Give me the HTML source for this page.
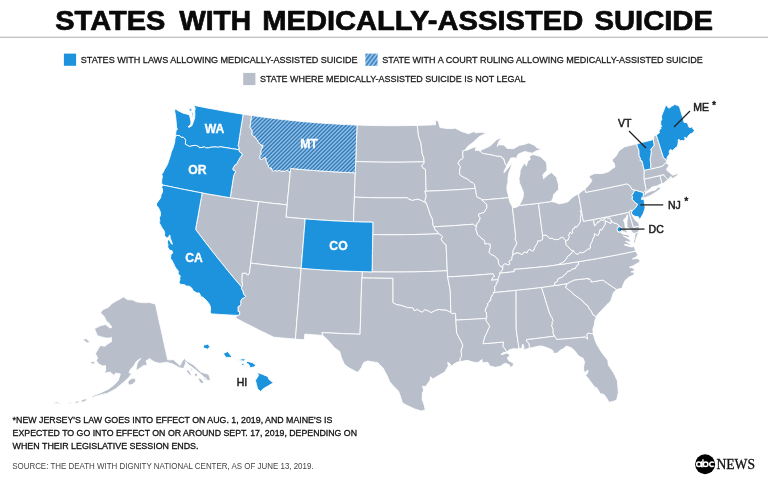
<!DOCTYPE html>
<html><head><meta charset="utf-8"><title>States with medically-assisted suicide</title>
<style>
html,body{margin:0;padding:0;background:#fff;}
body{width:768px;height:480px;overflow:hidden;font-family:"Liberation Sans",sans-serif;}
svg{display:block;filter:blur(.45px)}
.g{fill:#b8bfca;stroke:#fff;stroke-width:.9;stroke-linejoin:round}
.b{fill:#1e93dd;stroke:#fff;stroke-width:.9;stroke-linejoin:round}
.h{fill:url(#hatch);stroke:#fff;stroke-width:.9;stroke-linejoin:round}
text{font-family:"Liberation Sans",sans-serif}
.lab{font-weight:bold;font-size:12.2px;fill:#fff;stroke:#fff;stroke-width:.3;text-anchor:middle}
.dlab{font-size:10.5px;fill:#222;stroke:#222;stroke-width:.5}
.leg{font-size:9.7px;fill:#1a1a1a;stroke:#1a1a1a;stroke-width:.28}
.fn{font-size:9.3px;fill:#111;stroke:#111;stroke-width:.3}
.src{font-size:9.2px;fill:#444}
</style></head><body>
<svg width="768" height="480" viewBox="0 0 768 480">
<defs>
<pattern id="hatch" width="2.78" height="2.78" patternUnits="userSpaceOnUse" patternTransform="rotate(-45)">
<rect width="2.78" height="2.78" fill="#84c1f1"/><rect width="2.78" height="1.3" fill="#3e78ad"/>
</pattern>
<pattern id="hatch2" width="3.3" height="3.3" patternUnits="userSpaceOnUse" patternTransform="translate(365.5 54) rotate(-53)">
<rect width="3.3" height="3.3" fill="#88c4f5"/><rect width="3.3" height="1.5" fill="#467daf"/>
</pattern>
</defs>
<rect width="768" height="480" fill="#fff"/>
<g font-size="27.7" font-weight="bold" fill="#0a0a0a" stroke="#0a0a0a" stroke-width=".7" stroke-linejoin="round">
<text x="55.3" y="29.9" textLength="110" lengthAdjust="spacingAndGlyphs">STATES</text>
<text x="179.2" y="29.9" textLength="72" lengthAdjust="spacingAndGlyphs">WITH</text>
<text x="262.2" y="29.9" textLength="321" lengthAdjust="spacingAndGlyphs">MEDICALLY-ASSISTED</text>
<text x="594.4" y="29.9" textLength="118.6" lengthAdjust="spacingAndGlyphs">SUICIDE</text>
</g>
<rect x="0" y="36.8" width="768" height="0.8" fill="#9a9a9a"/>
<!-- legend -->
<rect x="63.9" y="53.6" width="12.2" height="12.2" fill="#1e93dd"/>
<text class="leg" x="80.8" y="62.8" textLength="276.7" lengthAdjust="spacingAndGlyphs">STATES WITH LAWS ALLOWING MEDICALLY-ASSISTED SUICIDE</text>
<rect x="365.4" y="53.6" width="12.2" height="12.2" fill="url(#hatch2)"/>
<text class="leg" x="382.3" y="62.8" textLength="320.4" lengthAdjust="spacingAndGlyphs">STATE WITH A COURT RULING ALLOWING MEDICALLY-ASSISTED SUICIDE</text>
<rect x="243.2" y="72.9" width="12.2" height="12.2" fill="#b8bfca"/>
<text class="leg" x="260" y="81.9" textLength="265.5" lengthAdjust="spacingAndGlyphs">STATE WHERE MEDICALLY-ASSISTED SUICIDE IS NOT LEGAL</text>
<!-- map -->
<g id="map">
<path class="g" d="M202.2,192.9L205.7,193.6L209.2,194.2L212.7,194.8L216.2,195.4L219.7,196.0L223.2,196.5L226.7,197.1L230.3,197.7L233.8,198.2L237.3,198.7L240.9,199.2L244.4,199.7L248.0,200.2L251.5,200.7L255.1,201.2L258.6,201.6L258.0,206.3L257.4,211.0L256.8,215.7L256.2,220.4L255.6,225.2L255.0,229.9L254.4,234.6L253.8,239.4L253.2,244.1L252.6,248.8L251.9,253.6L251.3,258.3L250.7,263.1L250.1,268.0L249.5,273.0L248.2,275.0L247.2,275.0L246.1,273.3L242.3,273.3L242.1,277.0L242.0,280.6L242.4,283.2L242.5,285.5L241.6,287.1L238.2,283.0L234.7,279.0L231.3,274.9L227.9,270.8L224.6,266.7L221.3,262.6L217.9,258.4L214.7,254.3L211.4,250.2L208.2,246.0L205.0,241.9L201.8,237.7L198.7,233.6L195.6,229.4L196.4,224.8L197.2,220.3L198.1,215.7L198.9,211.1L199.7,206.6L200.5,202.0L201.4,197.5L202.2,192.9Z"/>
<path class="g" d="M243.1,114.2L246.0,114.7L248.8,115.1L251.7,115.5L251.1,119.5L250.5,123.5L250.0,127.4L252.4,131.2L251.9,134.5L253.4,136.1L255.2,136.9L255.3,137.7L258.2,141.4L258.3,142.7L260.6,144.2L260.6,145.1L263.2,145.3L261.4,149.6L260.7,152.4L261.4,154.4L259.6,155.5L260.1,156.8L259.4,158.0L261.3,159.5L263.7,158.2L264.8,157.0L266.2,158.4L265.9,159.3L266.5,161.7L267.7,164.3L268.7,165.3L268.4,167.0L269.5,167.8L271.4,168.1L272.3,170.6L273.3,171.2L274.4,170.5L277.2,170.9L279.4,170.5L280.7,171.0L282.8,171.0L283.2,171.4L285.1,171.3L287.4,169.9L288.7,171.4L290.3,172.3L289.9,177.0L289.4,181.6L288.9,186.2L288.5,190.9L288.0,195.5L287.6,200.2L287.1,204.9L283.5,204.5L280.0,204.1L276.4,203.7L272.8,203.4L269.3,202.9L265.7,202.5L262.2,202.1L258.6,201.6L255.1,201.2L251.5,200.7L248.0,200.2L244.4,199.7L240.9,199.2L237.3,198.7L233.8,198.2L230.3,197.7L230.9,193.2L231.6,188.8L232.3,184.4L233.0,179.9L233.7,175.5L235.5,171.7L234.9,170.7L233.2,170.2L232.8,168.5L235.3,164.5L236.4,164.3L237.5,162.6L237.5,161.5L238.8,160.2L239.7,158.2L242.2,154.9L241.6,153.2L239.6,152.0L238.7,149.7L239.0,147.7L238.0,145.5L238.4,144.4L239.0,140.5L239.6,136.6L240.2,132.6L240.8,128.7L241.4,125.1L242.0,121.5L242.6,117.8L243.1,114.2Z"/>
<path class="g" d="M290.7,168.4L294.3,168.8L297.9,169.1L301.5,169.5L305.0,169.8L308.6,170.1L312.2,170.4L315.8,170.6L319.4,170.9L323.0,171.1L326.6,171.4L330.2,171.6L333.7,171.8L337.3,172.0L340.9,172.2L344.5,172.4L348.1,172.5L351.7,172.7L355.3,172.8L355.1,177.7L355.0,182.5L354.8,187.4L354.6,192.3L354.4,197.1L354.3,202.0L354.1,206.9L353.9,211.9L353.7,216.8L353.5,221.7L349.8,221.6L346.1,221.4L342.4,221.2L338.6,221.1L334.9,220.9L331.2,220.7L327.5,220.4L323.8,220.2L320.0,220.0L316.3,219.7L312.6,219.4L308.9,219.2L305.2,218.9L301.3,218.5L297.4,218.2L293.6,217.9L289.7,217.5L285.9,217.1L286.3,213.0L286.7,208.9L287.1,204.9L287.5,200.5L287.9,196.2L288.4,191.9L288.8,187.6L289.2,183.3L289.7,179.0L290.1,174.7L290.4,171.6L290.7,168.4Z"/>
<path class="g" d="M258.6,201.6L262.2,202.1L265.7,202.5L269.3,202.9L272.8,203.4L276.4,203.7L280.0,204.1L283.5,204.5L287.1,204.9L286.7,208.9L286.3,213.0L285.9,217.1L289.7,217.5L293.6,217.9L297.4,218.2L301.3,218.5L305.2,218.9L304.8,223.8L304.4,228.7L304.0,233.6L303.6,238.6L303.2,243.5L302.8,248.5L302.4,253.4L302.0,258.4L301.6,263.4L301.1,268.3L297.3,268.0L293.4,267.7L289.5,267.3L285.6,267.0L281.7,266.6L277.8,266.2L274.0,265.8L270.1,265.4L266.2,265.0L262.3,264.5L258.5,264.0L254.6,263.6L250.7,263.1L251.3,258.3L251.9,253.6L252.6,248.8L253.2,244.1L253.8,239.4L254.4,234.6L255.0,229.9L255.6,225.2L256.2,220.4L256.8,215.7L257.4,211.0L258.0,206.3L258.6,201.6Z"/>
<path class="g" d="M250.7,263.1L254.6,263.6L258.5,264.0L262.3,264.5L266.2,265.0L270.1,265.4L274.0,265.8L277.8,266.2L281.7,266.6L285.6,267.0L289.5,267.3L293.4,267.7L297.3,268.0L301.1,268.3L300.8,273.0L300.4,277.7L300.0,282.5L299.6,287.2L299.2,291.9L298.8,296.6L298.5,301.3L298.1,306.0L297.7,310.8L297.3,315.5L296.9,320.2L296.5,324.9L296.2,329.7L295.8,334.4L295.4,339.1L291.8,338.8L288.2,338.5L284.5,338.2L280.9,337.9L277.3,337.5L273.7,337.2L269.8,335.3L266.0,333.4L262.1,331.6L258.3,329.7L254.5,327.8L250.7,325.8L246.9,323.9L243.1,322.0L239.3,320.0L235.6,318.1L236.9,315.3L239.1,315.1L239.7,314.2L239.5,311.7L238.1,311.5L238.0,306.7L240.4,305.3L240.8,303.4L240.8,300.5L242.3,298.5L244.1,297.9L245.6,296.3L243.8,294.4L242.8,290.9L241.4,288.6L241.6,287.1L242.5,285.5L242.4,283.2L242.0,280.6L242.1,277.0L242.3,273.3L246.1,273.3L247.2,275.0L248.2,275.0L249.5,273.0L250.1,268.0L250.7,263.1Z"/>
<path class="g" d="M301.1,268.3L305.0,268.6L308.8,268.9L312.6,269.2L316.4,269.5L320.3,269.7L324.1,270.0L327.9,270.2L331.7,270.4L335.6,270.6L339.4,270.8L343.2,271.0L347.1,271.1L350.9,271.3L354.7,271.4L358.6,271.5L362.4,271.6L362.3,274.8L362.2,277.9L361.8,277.9L361.7,282.6L361.5,287.2L361.4,291.9L361.2,296.6L361.1,301.3L361.0,306.0L360.8,310.7L360.7,315.4L360.5,320.1L360.4,324.8L360.2,329.5L360.1,334.2L355.9,334.1L351.6,333.9L347.4,333.8L343.2,333.6L338.9,333.4L334.7,333.2L330.5,333.0L326.2,332.8L322.0,332.6L322.8,335.4L319.2,335.2L315.6,334.9L312.0,334.7L308.4,334.4L304.8,334.2L304.6,337.0L304.4,339.8L301.4,339.6L298.4,339.4L295.4,339.1L295.8,334.4L296.2,329.7L296.5,324.9L296.9,320.2L297.3,315.5L297.7,310.8L298.1,306.0L298.5,301.3L298.8,296.6L299.2,291.9L299.6,287.2L300.0,282.5L300.4,277.7L300.8,273.0L301.1,268.3Z"/>
<path class="g" d="M357.0,125.0L360.4,125.1L363.7,125.3L367.0,125.3L370.4,125.4L373.7,125.5L377.1,125.6L380.4,125.6L383.8,125.6L387.1,125.7L390.4,125.7L393.8,125.7L397.1,125.7L400.5,125.6L403.8,125.6L407.1,125.6L410.5,125.5L413.8,125.4L417.2,125.4L418.0,130.1L418.3,134.8L419.1,138.0L420.1,140.5L421.0,143.0L421.3,146.6L421.9,150.5L422.2,153.8L423.7,157.3L424.2,161.8L420.6,161.9L417.0,161.9L413.4,162.0L409.8,162.1L406.2,162.1L402.6,162.2L399.0,162.2L395.4,162.2L391.8,162.2L388.2,162.2L384.6,162.2L380.9,162.1L377.3,162.1L373.7,162.0L370.1,161.9L366.5,161.8L362.9,161.7L359.3,161.6L355.7,161.5L355.9,156.9L356.0,152.3L356.2,147.7L356.4,143.2L356.5,138.6L356.7,134.1L356.9,129.5L357.0,125.0Z"/>
<path class="g" d="M355.7,161.5L359.3,161.6L362.9,161.7L366.5,161.8L370.1,161.9L373.7,162.0L377.3,162.1L380.9,162.1L384.6,162.2L388.2,162.2L391.8,162.2L395.4,162.2L399.0,162.2L402.6,162.2L406.2,162.1L409.8,162.1L413.4,162.0L417.0,161.9L420.6,161.9L424.2,161.8L424.1,163.1L421.7,165.8L423.1,168.2L425.5,169.3L425.6,173.7L425.8,178.0L425.9,182.4L426.0,186.8L426.2,191.2L424.8,191.2L426.3,196.1L424.9,200.7L426.6,203.5L424.2,202.2L421.3,200.4L419.3,199.8L417.4,199.2L414.8,199.8L412.2,200.5L408.4,198.9L407.0,197.7L403.2,197.8L399.5,197.8L395.7,197.8L392.0,197.8L388.2,197.8L384.5,197.8L380.7,197.8L376.9,197.7L373.2,197.7L369.4,197.6L365.7,197.5L361.9,197.4L358.2,197.3L354.4,197.1L354.6,192.3L354.8,187.4L355.0,182.5L355.1,177.7L355.3,172.8L355.4,169.0L355.6,165.2L355.7,161.5Z"/>
<path class="g" d="M354.4,197.1L358.2,197.3L361.9,197.4L365.7,197.5L369.4,197.6L373.2,197.7L376.9,197.7L380.7,197.8L384.5,197.8L388.2,197.8L392.0,197.8L395.7,197.8L399.5,197.8L403.2,197.8L407.0,197.7L408.4,198.9L412.2,200.5L414.8,199.8L417.4,199.2L419.3,199.8L421.3,200.4L424.2,202.2L426.6,203.5L427.7,207.0L428.7,209.5L429.5,212.2L430.3,214.9L432.2,218.4L432.7,221.6L433.1,225.6L434.0,226.8L435.3,230.2L437.3,231.3L438.8,233.8L434.9,233.9L431.0,234.1L427.1,234.2L423.2,234.3L419.3,234.4L415.4,234.5L411.6,234.6L407.7,234.6L403.8,234.7L399.9,234.7L396.0,234.7L392.1,234.8L388.2,234.7L384.4,234.7L380.5,234.7L376.6,234.6L372.7,234.6L372.8,230.5L372.8,226.3L372.9,222.2L369.0,222.1L365.2,222.1L361.3,222.0L357.4,221.8L353.5,221.7L353.7,216.8L353.9,211.9L354.1,206.9L354.3,202.0L354.4,197.1Z"/>
<path class="g" d="M372.7,234.6L376.6,234.6L380.5,234.7L384.4,234.7L388.2,234.7L392.1,234.8L396.0,234.7L399.9,234.7L403.8,234.7L407.7,234.6L411.6,234.6L415.4,234.5L419.3,234.4L423.2,234.3L427.1,234.2L431.0,234.1L434.9,233.9L438.8,233.8L441.4,235.3L442.6,236.7L441.1,239.2L442.8,241.6L443.9,243.4L446.1,244.5L446.3,248.8L446.5,253.2L446.7,257.6L446.9,261.9L447.1,266.3L447.3,270.7L443.4,270.9L439.4,271.1L435.5,271.2L431.5,271.4L427.6,271.5L423.6,271.6L419.6,271.7L415.7,271.8L411.7,271.9L407.8,271.9L403.8,272.0L399.8,272.0L395.9,272.0L391.9,272.0L388.0,272.0L384.0,272.0L380.0,272.0L376.1,271.9L372.1,271.9L372.2,267.2L372.3,262.5L372.3,257.8L372.4,253.2L372.5,248.5L372.6,243.9L372.6,239.2L372.7,234.6Z"/>
<path class="g" d="M362.4,271.6L365.6,271.7L368.9,271.8L372.1,271.9L376.1,271.9L380.0,272.0L384.0,272.0L388.0,272.0L391.9,272.0L395.9,272.0L399.8,272.0L403.8,272.0L407.8,271.9L411.7,271.9L415.7,271.8L419.6,271.7L423.6,271.6L427.6,271.5L431.5,271.4L435.5,271.2L439.4,271.1L443.4,270.9L447.3,270.7L447.5,273.8L447.6,276.9L448.5,281.5L449.4,286.0L450.3,290.6L450.4,295.0L450.5,299.4L450.6,303.8L450.8,308.2L450.9,312.6L448.6,311.4L446.3,310.2L442.1,310.0L439.0,309.5L435.3,310.5L431.2,312.7L428.5,311.1L424.8,309.7L422.2,312.3L419.6,311.1L417.2,309.4L414.3,310.9L412.7,307.8L410.1,307.7L407.5,307.6L404.3,306.5L401.2,305.4L397.0,304.8L394.9,303.7L392.8,302.5L392.8,297.7L392.8,292.8L392.8,288.0L392.8,283.1L392.8,278.3L389.0,278.3L385.2,278.3L381.3,278.2L377.5,278.2L373.7,278.1L369.9,278.1L366.1,278.0L362.2,277.9L362.3,274.8L362.4,271.6Z"/>
<path class="g" d="M362.2,277.9L366.1,278.0L369.9,278.1L373.7,278.1L377.5,278.2L381.3,278.2L385.2,278.3L389.0,278.3L392.8,278.3L392.8,283.1L392.8,288.0L392.8,292.8L392.8,297.7L392.8,302.5L394.9,303.7L397.0,304.8L401.2,305.4L404.3,306.5L407.5,307.6L410.1,307.7L412.7,307.8L414.3,310.9L417.2,309.4L419.6,311.1L422.2,312.3L424.8,309.7L428.5,311.1L431.2,312.7L435.3,310.5L439.0,309.5L442.1,310.0L446.3,310.2L448.6,311.4L450.9,312.6L452.0,313.8L454.1,313.1L455.6,313.5L455.7,316.8L455.9,320.1L456.1,324.4L456.4,328.6L456.6,332.9L459.2,337.8L460.6,340.3L461.9,342.9L462.8,345.7L461.2,350.2L461.4,353.4L461.6,356.5L460.1,358.2L460.4,361.6L457.5,362.1L454.3,363.8L450.9,366.5L450.2,364.0L447.7,362.2L448.4,366.0L446.6,369.0L444.8,372.0L441.1,374.1L437.4,376.2L435.1,377.7L432.9,379.1L430.6,376.7L430.1,380.2L428.0,383.1L425.8,386.5L422.5,386.3L423.7,390.1L422.3,393.2L422.3,396.4L422.2,399.5L423.3,402.6L424.4,405.7L425.3,409.9L421.4,411.0L417.9,410.0L414.5,408.9L410.5,407.0L406.5,405.2L402.5,402.9L401.1,398.6L399.8,394.8L398.5,391.1L394.5,387.3L392.0,384.4L389.5,381.4L388.4,378.7L387.3,376.0L385.1,372.0L383.0,367.9L380.2,365.2L377.5,362.5L375.9,362.4L371.8,361.7L367.7,361.0L363.6,362.7L361.5,367.5L358.1,372.2L356.4,371.8L352.6,369.8L348.8,367.8L346.7,366.1L344.5,364.5L343.0,361.3L341.5,358.1L340.6,354.7L339.6,351.4L337.0,349.6L334.4,347.7L331.3,344.1L328.2,340.5L325.5,337.9L322.8,335.4L322.0,332.6L326.2,332.8L330.5,333.0L334.7,333.2L338.9,333.4L343.2,333.6L347.4,333.8L351.6,333.9L355.9,334.1L360.1,334.2L360.2,329.5L360.4,324.8L360.5,320.1L360.7,315.4L360.8,310.7L361.0,306.0L361.1,301.3L361.2,296.6L361.4,291.9L361.5,287.2L361.7,282.6L361.8,277.9L362.2,277.9Z"/>
<path class="g" d="M417.2,125.4L420.2,125.3L423.3,125.2L426.3,125.1L429.4,125.0L432.4,124.8L435.5,124.7L435.3,120.2L438.2,120.8L439.1,124.1L440.0,127.5L442.4,127.8L444.8,128.2L447.2,128.5L449.2,128.6L451.2,128.6L453.2,128.4L455.2,128.1L457.2,129.2L459.3,130.2L461.1,131.3L464.8,132.5L468.5,133.7L471.3,132.5L474.1,131.4L475.1,132.8L478.4,132.5L481.8,132.2L484.0,132.6L486.3,133.0L483.9,134.2L481.6,135.4L479.2,136.7L476.4,139.3L473.6,141.9L470.8,144.1L467.9,146.3L465.0,150.2L462.6,151.0L462.9,154.5L463.1,158.1L462.6,158.7L459.5,160.4L458.1,163.5L460.4,166.4L459.7,170.1L459.5,174.3L462.0,176.3L464.4,177.6L468.0,179.3L470.8,182.0L472.9,182.6L474.6,184.8L475.3,188.4L471.8,188.7L468.3,188.9L464.8,189.2L461.3,189.4L457.8,189.7L454.3,189.9L450.8,190.1L447.3,190.3L443.8,190.4L440.2,190.6L436.7,190.8L433.2,190.9L429.7,191.0L426.2,191.2L426.0,186.8L425.9,182.4L425.8,178.0L425.6,173.7L425.5,169.3L423.1,168.2L421.7,165.8L424.1,163.1L424.2,161.8L423.7,157.3L422.2,153.8L421.9,150.5L421.3,146.6L421.0,143.0L420.1,140.5L419.1,138.0L418.3,134.8L418.0,130.1L417.2,125.4Z"/>
<path class="g" d="M426.2,191.2L429.7,191.0L433.2,190.9L436.7,190.8L440.2,190.6L443.8,190.4L447.3,190.3L450.8,190.1L454.3,189.9L457.8,189.7L461.3,189.4L464.8,189.2L468.3,188.9L471.8,188.7L475.3,188.4L475.7,190.2L476.2,193.5L476.6,195.7L477.5,197.4L480.9,198.5L481.8,200.0L484.1,202.0L486.8,204.4L486.9,208.2L485.8,209.2L484.6,211.9L482.8,212.9L479.0,213.8L478.6,216.0L480.3,217.9L479.2,221.1L476.9,224.0L476.4,226.8L473.2,224.2L469.7,224.5L466.1,224.7L462.5,225.0L459.0,225.3L455.4,225.5L451.8,225.8L448.3,226.0L444.7,226.2L441.1,226.4L437.5,226.6L434.0,226.8L433.1,225.6L432.7,221.6L432.2,218.4L430.3,214.9L429.5,212.2L428.7,209.5L427.7,207.0L426.6,203.5L424.9,200.7L426.3,196.1L424.8,191.2L426.2,191.2Z"/>
<path class="g" d="M434.0,226.8L437.5,226.6L441.1,226.4L444.7,226.2L448.3,226.0L451.8,225.8L455.4,225.5L459.0,225.3L462.5,225.0L466.1,224.7L469.7,224.5L473.2,224.2L476.4,226.8L475.8,229.1L476.9,232.3L477.7,235.0L479.6,236.2L481.0,238.0L484.3,240.2L485.2,244.1L487.4,243.5L490.2,244.2L490.4,247.4L489.0,252.2L490.9,254.3L494.7,256.1L498.2,259.5L498.6,263.2L499.4,264.7L500.5,266.6L502.9,266.8L502.5,270.1L500.8,271.6L499.8,273.2L499.5,275.2L499.0,276.5L498.3,278.3L498.1,279.6L494.7,279.9L491.3,280.2L492.8,277.8L494.2,276.2L493.1,273.8L489.3,274.1L485.5,274.4L481.8,274.7L478.0,275.0L474.2,275.3L470.4,275.6L466.6,275.8L462.8,276.1L459.0,276.3L455.2,276.5L451.4,276.7L447.6,276.9L447.5,273.8L447.3,270.7L447.1,266.3L446.9,261.9L446.7,257.6L446.5,253.2L446.3,248.8L446.1,244.5L443.9,243.4L442.8,241.6L441.1,239.2L442.6,236.7L441.4,235.3L438.8,233.8L437.3,231.3L435.3,230.2L434.0,226.8Z"/>
<path class="g" d="M447.6,276.9L451.4,276.7L455.2,276.5L459.0,276.3L462.8,276.1L466.6,275.8L470.4,275.6L474.2,275.3L478.0,275.0L481.8,274.7L485.5,274.4L489.3,274.1L493.1,273.8L494.2,276.2L492.8,277.8L491.3,280.2L494.7,279.9L498.1,279.6L497.9,282.0L496.4,282.8L496.3,284.8L494.5,287.0L495.0,289.9L494.1,292.3L493.2,292.6L493.8,293.7L492.3,294.8L491.7,297.0L490.6,297.6L491.1,300.1L489.2,300.9L489.4,301.7L487.4,303.9L488.1,305.2L486.4,307.4L485.1,311.4L487.0,312.9L486.2,313.9L487.0,316.5L486.3,318.3L482.5,318.6L478.7,318.9L474.9,319.1L471.1,319.3L467.3,319.5L463.5,319.7L459.7,319.9L455.9,320.1L455.7,316.8L455.6,313.5L454.1,313.1L452.0,313.8L450.9,312.6L450.8,308.2L450.6,303.8L450.5,299.4L450.4,295.0L450.3,290.6L449.4,286.0L448.5,281.5L447.6,276.9Z"/>
<path class="g" d="M455.9,320.1L459.7,319.9L463.5,319.7L467.3,319.5L471.1,319.3L474.9,319.1L478.7,318.9L482.5,318.6L486.3,318.3L486.1,320.9L487.9,323.2L489.8,326.5L488.4,328.9L487.5,331.4L485.2,336.0L484.2,339.3L483.1,343.7L487.2,343.4L491.4,343.1L495.5,342.7L499.6,342.4L503.8,342.0L502.9,346.2L505.0,348.8L506.9,352.0L506.0,352.4L503.4,352.4L500.9,354.5L503.6,354.2L506.0,353.1L508.5,353.5L509.8,355.9L507.2,357.8L508.6,360.4L512.1,362.6L513.7,363.7L512.8,366.1L509.8,367.5L509.3,364.8L505.5,363.3L502.9,364.4L500.8,366.2L498.1,366.8L495.4,367.3L492.6,366.6L489.7,365.9L487.8,362.3L485.1,362.6L482.3,362.9L482.1,359.6L479.5,361.4L477.4,362.7L475.1,362.4L472.9,362.1L470.1,361.2L467.3,360.3L463.8,361.0L460.4,361.6L460.1,358.2L461.6,356.5L461.4,353.4L461.2,350.2L462.8,345.7L461.9,342.9L460.6,340.3L459.2,337.8L456.6,332.9L456.4,328.6L456.1,324.4L455.9,320.1Z"/>
<path class="g" d="M465.0,150.2L467.0,150.2L469.6,149.0L472.3,147.8L474.3,147.3L476.3,146.8L475.2,150.8L476.6,150.1L479.6,150.8L482.6,153.3L485.7,153.8L488.9,154.4L492.1,154.9L494.4,155.5L496.8,156.0L499.1,156.2L501.4,156.5L501.6,157.9L503.7,158.3L504.9,163.0L506.6,165.9L506.3,167.1L504.3,170.4L504.1,172.8L505.8,170.8L507.4,168.8L510.3,165.2L512.3,163.1L511.3,166.1L510.3,169.1L508.8,172.9L508.0,177.9L508.0,182.2L506.9,186.6L507.1,191.0L508.1,193.9L508.8,197.6L505.4,198.0L502.0,198.3L498.7,198.6L495.3,198.9L491.9,199.2L488.6,199.5L485.2,199.8L481.8,200.0L480.9,198.5L477.5,197.4L476.6,195.7L476.2,193.5L475.7,190.2L475.3,188.4L474.6,184.8L472.9,182.6L470.8,182.0L468.0,179.3L464.4,177.6L462.0,176.3L459.5,174.3L459.7,170.1L460.4,166.4L458.1,163.5L459.5,160.4L462.6,158.7L463.1,158.1L462.9,154.5L462.6,151.0L465.0,150.2Z"/>
<path class="g" d="M481.8,200.0L485.2,199.8L488.6,199.5L491.9,199.2L495.3,198.9L498.7,198.6L502.0,198.3L505.4,198.0L508.8,197.6L509.7,201.7L511.5,205.2L512.4,206.9L512.9,211.7L513.5,216.5L514.0,221.3L514.6,226.1L515.1,231.0L515.7,235.8L515.1,239.0L516.3,241.4L516.8,243.2L516.6,244.1L514.8,247.4L513.1,250.5L512.9,253.0L512.9,255.5L512.0,256.9L511.9,259.8L508.9,261.3L510.0,264.0L508.1,265.1L506.8,264.3L504.4,263.9L503.0,265.3L502.9,266.8L500.5,266.6L499.4,264.7L498.6,263.2L498.2,259.5L494.7,256.1L490.9,254.3L489.0,252.2L490.4,247.4L490.2,244.2L487.4,243.5L485.2,244.1L484.3,240.2L481.0,238.0L479.6,236.2L477.7,235.0L476.9,232.3L475.8,229.1L476.4,226.8L476.9,224.0L479.2,221.1L480.3,217.9L478.6,216.0L479.0,213.8L482.8,212.9L484.6,211.9L485.8,209.2L486.9,208.2L486.8,204.4L484.1,202.0L481.8,200.0Z"/>
<path class="g" d="M512.4,206.9L513.7,207.7L516.6,207.1L519.1,205.5L522.3,205.1L525.5,204.8L528.8,204.4L532.0,204.1L535.2,203.7L538.4,203.3L539.0,207.9L539.6,212.5L540.2,217.1L540.8,221.7L541.4,226.3L542.0,230.9L542.7,235.6L542.6,239.6L539.9,241.1L537.8,240.9L537.4,243.2L534.9,247.0L533.8,250.5L532.4,251.2L529.6,249.4L527.8,250.8L527.0,253.1L524.4,251.9L522.1,254.7L519.0,253.2L516.9,252.9L513.7,254.2L512.9,255.5L512.9,253.0L513.1,250.5L514.8,247.4L516.6,244.1L516.8,243.2L516.3,241.4L515.1,239.0L515.7,235.8L515.1,231.0L514.6,226.1L514.0,221.3L513.5,216.5L512.9,211.7L512.4,206.9Z"/>
<path class="g" d="M538.4,203.3L541.6,202.9L544.8,202.4L548.0,202.0L551.2,201.5L553.5,201.9L555.8,202.4L558.9,203.8L561.3,203.4L563.7,203.0L566.0,202.3L568.3,201.6L570.0,199.8L571.6,197.9L575.1,195.5L578.5,193.9L579.2,197.9L579.9,202.0L580.7,206.1L581.4,210.1L580.1,211.1L581.0,212.3L581.3,214.2L580.5,217.3L580.4,222.0L577.3,226.5L576.1,227.4L574.9,226.7L574.1,228.6L573.0,228.8L572.2,231.3L572.7,232.6L571.8,234.0L570.0,232.3L568.7,235.5L569.5,237.4L568.5,238.2L568.3,239.9L565.7,240.7L562.7,237.2L561.2,237.6L558.5,239.5L556.2,239.6L554.0,239.6L552.8,238.5L549.3,238.4L548.0,236.7L545.8,235.2L542.7,235.6L542.0,230.9L541.4,226.3L540.8,221.7L540.2,217.1L539.6,212.5L539.0,207.9L538.4,203.3Z"/>
<path class="g" d="M519.1,205.5L522.3,205.1L525.5,204.8L528.8,204.4L532.0,204.1L535.2,203.7L538.4,203.3L541.6,202.9L544.8,202.4L548.0,202.0L551.2,201.5L553.1,197.8L553.6,194.7L555.7,192.5L558.6,189.5L558.5,184.6L557.5,181.0L556.6,177.5L554.1,175.0L551.6,172.5L549.6,173.7L547.7,174.9L545.6,176.9L543.5,178.8L542.9,174.6L545.0,172.5L547.0,170.3L546.9,167.0L546.7,163.6L545.6,161.3L543.0,159.0L540.3,156.6L537.3,155.5L534.8,154.9L532.3,154.4L529.2,157.0L530.4,159.2L527.9,160.8L526.2,165.9L525.3,162.4L523.7,164.4L522.1,166.5L520.2,170.4L519.8,174.7L518.9,178.5L519.4,182.7L521.4,187.4L522.4,189.9L523.5,192.4L523.1,197.0L521.6,200.9L519.1,205.5ZM479.6,150.8L482.6,153.3L485.7,153.8L488.9,154.4L492.1,154.9L494.4,155.5L496.8,156.0L499.1,156.2L501.4,156.5L501.6,157.9L503.7,158.3L504.9,163.0L506.6,165.9L508.7,162.0L510.8,158.1L514.5,157.7L516.0,158.7L518.2,154.2L521.5,152.8L524.8,151.5L528.5,152.4L532.2,153.3L534.0,152.2L535.8,151.2L538.9,150.1L541.9,149.1L539.6,148.5L537.2,148.0L534.5,145.3L531.6,144.1L528.6,142.9L526.2,143.7L523.8,144.6L521.6,144.9L519.4,145.3L516.4,147.0L513.4,148.7L510.2,148.5L506.9,148.2L503.8,145.0L501.1,144.9L498.3,144.7L497.2,146.5L498.0,143.9L498.9,141.3L500.5,139.6L502.1,138.0L499.5,138.7L496.9,139.4L494.4,141.9L491.9,144.4L489.4,146.3L486.1,147.8L482.9,149.3L479.6,150.8Z"/>
<path class="g" d="M502.9,266.8L503.0,265.3L504.4,263.9L506.8,264.3L508.1,265.1L510.0,264.0L508.9,261.3L511.9,259.8L512.0,256.9L512.9,255.5L513.7,254.2L516.9,252.9L519.0,253.2L522.1,254.7L524.4,251.9L527.0,253.1L527.8,250.8L529.6,249.4L532.4,251.2L533.8,250.5L534.9,247.0L537.4,243.2L537.8,240.9L539.9,241.1L542.6,239.6L542.7,235.6L545.8,235.2L548.0,236.7L549.3,238.4L552.8,238.5L554.0,239.6L556.2,239.6L558.5,239.5L561.2,237.6L562.7,237.2L565.7,240.7L566.1,244.4L567.7,246.5L569.6,248.1L570.3,249.4L572.4,250.6L573.7,250.5L570.9,254.0L569.0,255.4L567.1,256.8L567.2,257.8L565.4,260.0L563.5,262.1L560.9,263.4L558.4,264.7L554.7,265.3L550.9,265.8L547.1,266.4L543.7,266.7L540.2,267.0L536.8,267.4L533.3,267.7L529.9,268.0L525.9,268.4L522.0,268.7L518.0,269.1L514.1,269.4L514.3,271.7L510.7,272.1L507.1,272.4L503.4,272.8L499.8,273.2L500.8,271.6L502.5,270.1L502.9,266.8Z"/>
<path class="g" d="M499.8,273.2L503.4,272.8L507.1,272.4L510.7,272.1L514.3,271.7L514.1,269.4L518.0,269.1L522.0,268.7L525.9,268.4L529.9,268.0L533.3,267.7L536.8,267.4L540.2,267.0L543.7,266.7L547.1,266.4L550.9,265.8L554.7,265.3L558.4,264.7L562.5,264.2L566.5,263.6L570.5,262.9L574.5,262.3L578.6,261.7L578.6,264.7L576.7,265.7L575.5,268.4L572.1,269.3L570.5,270.8L567.5,271.6L565.8,274.1L564.0,275.6L562.1,277.2L560.2,277.9L558.2,278.7L557.3,281.5L554.7,282.8L554.8,285.6L551.5,286.1L548.2,286.6L544.9,287.1L541.6,287.5L537.8,288.0L534.0,288.4L530.2,288.9L526.3,289.3L522.5,289.7L518.7,290.1L514.9,290.5L511.3,290.9L507.7,291.2L504.1,291.6L500.5,291.9L496.8,292.3L493.2,292.6L494.1,292.3L495.0,289.9L494.5,287.0L496.3,284.8L496.4,282.8L497.9,282.0L498.1,279.6L498.3,278.3L499.0,276.5L499.5,275.2L499.8,273.2Z"/>
<path class="g" d="M493.2,292.6L496.8,292.3L500.5,291.9L504.1,291.6L507.7,291.2L511.3,290.9L514.9,290.5L516.1,291.7L516.1,296.3L516.1,300.9L516.1,305.5L516.1,310.2L516.1,315.0L516.1,319.8L516.2,324.6L516.2,329.4L516.9,334.2L517.6,338.9L518.3,343.7L519.0,348.4L517.3,349.0L513.5,348.7L511.3,349.2L508.7,350.3L506.9,352.0L505.0,348.8L502.9,346.2L503.8,342.0L499.6,342.4L495.5,342.7L491.4,343.1L487.2,343.4L483.1,343.7L484.2,339.3L485.2,336.0L487.5,331.4L488.4,328.9L489.8,326.5L487.9,323.2L486.1,320.9L486.3,318.3L487.0,316.5L486.2,313.9L487.0,312.9L485.1,311.4L486.4,307.4L488.1,305.2L487.4,303.9L489.4,301.7L489.2,300.9L491.1,300.1L490.6,297.6L491.7,297.0L492.3,294.8L493.8,293.7L493.2,292.6Z"/>
<path class="g" d="M514.9,290.5L518.7,290.1L522.5,289.7L526.3,289.3L530.2,288.9L534.0,288.4L537.8,288.0L541.6,287.5L542.7,291.0L543.8,294.5L544.9,298.0L546.0,301.8L547.2,305.6L548.4,309.5L549.6,313.3L551.2,316.6L552.6,318.4L552.4,319.7L553.6,320.3L552.0,322.1L552.4,323.7L551.7,325.9L553.3,329.5L553.0,332.8L554.6,336.1L550.6,336.7L546.6,337.2L542.7,337.7L538.7,338.2L534.7,338.7L530.7,339.2L526.7,339.6L526.6,341.3L529.2,343.5L529.0,345.6L530.0,346.5L528.6,348.5L526.1,349.2L523.5,349.7L524.0,346.9L522.8,344.1L522.0,346.5L521.8,348.8L519.0,348.4L518.3,343.7L517.6,338.9L516.9,334.2L516.2,329.4L516.2,324.6L516.1,319.8L516.1,315.0L516.1,310.2L516.1,305.5L516.1,300.9L516.1,296.3L516.1,291.7L514.9,290.5Z"/>
<path class="g" d="M541.6,287.5L544.9,287.1L548.2,286.6L551.5,286.1L554.8,285.6L557.9,285.1L561.0,284.6L564.1,284.1L567.2,283.6L565.6,287.4L568.2,289.4L571.3,291.9L574.3,294.8L578.5,297.7L582.1,300.3L584.8,303.6L587.9,305.7L589.2,308.6L591.1,310.9L593.2,315.0L596.4,316.6L594.8,321.0L594.4,324.9L592.9,329.0L593.3,333.9L590.7,333.6L588.1,333.2L586.9,334.0L587.2,336.6L587.5,339.3L585.3,337.0L581.2,337.4L577.1,337.8L573.0,338.2L568.9,338.5L564.8,338.9L560.7,339.2L556.6,339.5L554.6,336.1L553.0,332.8L553.3,329.5L551.7,325.9L552.4,323.7L552.0,322.1L553.6,320.3L552.4,319.7L552.6,318.4L551.2,316.6L549.6,313.3L548.4,309.5L547.2,305.6L546.0,301.8L544.9,298.0L543.8,294.5L542.7,291.0L541.6,287.5Z"/>
<path class="g" d="M528.6,348.5L530.0,346.5L529.0,345.6L529.2,343.5L526.6,341.3L526.7,339.6L530.7,339.2L534.7,338.7L538.7,338.2L542.7,337.7L546.6,337.2L550.6,336.7L554.6,336.1L556.6,339.5L560.7,339.2L564.8,338.9L568.9,338.5L573.0,338.2L577.1,337.8L581.2,337.4L585.3,337.0L587.5,339.3L587.2,336.6L586.9,334.0L588.1,333.2L590.7,333.6L593.3,333.9L594.0,336.5L594.7,339.0L596.5,343.7L598.9,347.7L601.2,351.8L604.5,356.0L607.8,360.2L608.4,365.1L610.0,367.5L611.6,369.8L613.3,372.5L614.9,375.2L616.1,378.0L617.4,380.7L617.7,384.5L618.0,388.2L618.4,392.4L617.3,397.3L616.6,399.9L613.3,401.4L608.8,402.3L607.6,399.6L605.8,397.1L604.0,394.5L600.0,393.5L598.8,391.1L596.5,387.5L594.8,387.4L592.2,383.8L589.6,380.4L587.8,377.8L585.7,375.6L587.8,372.4L588.0,370.2L585.9,371.5L585.2,373.5L583.7,370.3L583.6,367.4L584.0,364.8L584.5,362.2L583.3,358.5L579.2,356.3L577.5,354.5L574.2,350.2L571.1,347.7L566.4,346.1L563.5,348.6L560.3,350.3L557.0,353.3L552.9,353.1L553.3,350.9L552.1,350.0L548.6,348.3L545.7,347.3L542.8,346.2L539.5,346.0L536.0,346.8L532.5,347.6L528.6,348.5Z"/>
<path class="g" d="M567.2,283.6L570.6,281.8L574.1,280.0L577.6,279.6L581.1,279.2L584.6,278.8L588.1,278.3L588.3,279.6L589.3,278.7L591.2,280.4L591.2,282.0L595.1,281.4L598.9,280.7L602.8,280.1L607.4,283.3L611.9,286.4L616.5,289.5L613.4,292.8L612.4,295.8L611.4,298.9L610.7,301.0L608.0,303.7L605.2,306.4L602.7,309.1L600.2,311.8L598.2,313.8L596.4,316.6L593.2,315.0L591.1,310.9L589.2,308.6L587.9,305.7L584.8,303.6L582.1,300.3L578.5,297.7L574.3,294.8L571.3,291.9L568.2,289.4L565.6,287.4L567.2,283.6Z"/>
<path class="g" d="M578.6,261.7L582.4,261.1L586.2,260.4L590.0,259.8L593.8,259.2L597.6,258.5L601.4,257.8L605.2,257.1L609.0,256.4L612.8,255.7L616.5,255.0L620.3,254.2L624.1,253.5L627.9,252.7L631.7,251.9L635.5,251.2L637.8,254.5L636.7,256.6L634.6,257.8L632.4,258.9L634.8,258.7L637.1,258.5L640.0,259.8L639.5,262.4L636.5,263.7L633.4,265.7L631.4,266.4L629.5,267.2L633.4,268.2L634.9,270.5L631.0,271.9L634.8,272.4L633.3,275.3L629.4,276.8L627.3,278.5L625.3,280.2L624.0,283.0L622.7,285.8L622.3,288.1L619.4,288.8L616.5,289.5L611.9,286.4L607.4,283.3L602.8,280.1L598.9,280.7L595.1,281.4L591.2,282.0L591.2,280.4L589.3,278.7L588.3,279.6L588.1,278.3L584.6,278.8L581.1,279.2L577.6,279.6L574.1,280.0L570.6,281.8L567.2,283.6L564.1,284.1L561.0,284.6L557.9,285.1L554.8,285.6L554.7,282.8L557.3,281.5L558.2,278.7L560.2,277.9L562.1,277.2L564.0,275.6L565.8,274.1L567.5,271.6L570.5,270.8L572.1,269.3L575.5,268.4L576.7,265.7L578.6,264.7L578.6,261.7Z"/>
<path class="g" d="M558.4,264.7L562.5,264.2L566.5,263.6L570.5,262.9L574.5,262.3L578.6,261.7L582.4,261.1L586.2,260.4L590.0,259.8L593.8,259.2L597.6,258.5L601.4,257.8L605.2,257.1L609.0,256.4L612.8,255.7L616.5,255.0L620.3,254.2L624.1,253.5L627.9,252.7L631.7,251.9L635.5,251.2L634.4,246.5L631.4,246.9L627.5,245.9L624.2,244.7L627.3,244.6L630.6,245.8L631.2,245.1L629.7,243.9L625.5,241.2L628.2,241.9L630.3,242.1L630.1,239.6L628.1,238.7L623.4,235.9L626.7,237.1L629.4,237.8L629.5,235.4L626.1,234.4L624.0,234.1L621.9,233.7L620.5,232.1L617.9,232.0L617.7,230.8L619.2,228.2L619.3,226.1L618.2,224.6L616.2,223.5L614.0,223.0L611.4,221.0L610.8,223.5L607.9,222.0L605.0,220.5L605.2,224.2L603.4,227.1L601.6,230.1L600.1,229.2L598.9,233.9L598.1,235.2L596.3,234.9L594.4,233.6L594.2,236.5L592.6,239.1L592.2,241.4L590.8,243.6L590.1,245.8L590.4,248.0L588.9,249.4L588.4,248.7L586.3,250.3L584.2,251.9L581.7,252.9L580.2,251.9L578.6,253.8L577.3,254.2L575.4,253.3L573.7,251.6L573.7,250.5L570.9,254.0L569.0,255.4L567.1,256.8L567.2,257.8L565.4,260.0L563.5,262.1L560.9,263.4L558.4,264.7ZM638.9,231.5L637.7,234.5L636.6,237.5L635.5,240.8L634.4,244.1L633.4,242.0L634.6,237.9L635.1,233.3L637.0,232.4L638.9,231.5Z"/>
<path class="g" d="M581.4,210.1L582.0,213.9L582.7,217.6L583.4,221.3L586.7,220.7L590.1,220.1L593.4,219.5L594.0,222.6L594.5,225.7L596.2,224.3L597.8,221.8L599.1,221.9L600.6,219.8L603.7,220.2L603.8,218.8L605.4,218.4L606.2,217.4L608.0,218.2L609.7,217.8L611.4,221.0L610.8,223.5L607.9,222.0L605.0,220.5L605.2,224.2L603.4,227.1L601.6,230.1L600.1,229.2L598.9,233.9L598.1,235.2L596.3,234.9L594.4,233.6L594.2,236.5L592.6,239.1L592.2,241.4L590.8,243.6L590.1,245.8L590.4,248.0L588.9,249.4L588.4,248.7L586.3,250.3L584.2,251.9L581.7,252.9L580.2,251.9L578.6,253.8L577.3,254.2L575.4,253.3L573.7,251.6L573.7,250.5L572.4,250.6L570.3,249.4L569.6,248.1L567.7,246.5L566.1,244.4L565.7,240.7L568.3,239.9L568.5,238.2L569.5,237.4L568.7,235.5L570.0,232.3L571.8,234.0L572.7,232.6L572.2,231.3L573.0,228.8L574.1,228.6L574.9,226.7L576.1,227.4L577.3,226.5L580.4,222.0L580.5,217.3L581.3,214.2L581.0,212.3L580.1,211.1L581.4,210.1Z"/>
<path class="g" d="M593.4,219.5L597.0,218.8L600.6,218.1L604.1,217.4L607.7,216.7L611.2,216.0L614.8,215.3L618.3,214.5L621.9,213.8L625.4,213.0L629.0,212.2L630.1,216.0L631.2,219.7L632.3,223.5L633.3,227.2L636.5,226.6L639.6,226.0L639.3,228.7L638.9,231.5L637.0,232.4L635.1,233.3L632.9,233.2L630.8,229.9L627.0,226.9L626.9,221.8L627.8,216.5L627.4,214.7L626.0,217.5L623.5,220.0L624.7,222.9L625.0,225.7L625.4,228.5L626.8,231.1L628.3,233.7L625.1,232.1L621.9,231.5L620.1,230.2L617.7,230.8L619.2,228.2L619.3,226.1L618.2,224.6L616.2,223.5L614.0,223.0L611.4,221.0L609.7,217.8L608.0,218.2L606.2,217.4L605.4,218.4L603.8,218.8L603.7,220.2L600.6,219.8L599.1,221.9L597.8,221.8L596.2,224.3L594.5,225.7L594.0,222.6L593.4,219.5Z"/>
<path class="g" d="M629.0,212.2L629.6,211.0L630.5,210.3L632.5,210.4L631.5,212.8L632.0,214.9L634.5,219.2L637.2,221.9L638.2,221.8L639.6,226.0L636.5,226.6L633.3,227.2L632.3,223.5L631.2,219.7L630.1,216.0L629.0,212.2Z"/>
<path class="g" d="M578.5,193.9L580.3,192.5L582.1,191.1L585.0,189.1L585.6,192.3L589.1,191.7L592.5,191.0L596.0,190.4L599.4,189.7L602.8,189.0L606.3,188.3L609.7,187.6L613.2,186.8L616.6,186.1L620.0,185.4L623.5,184.6L626.9,183.8L630.2,185.9L631.9,189.3L634.8,190.1L633.5,192.8L631.8,195.6L632.8,197.0L631.9,199.1L633.6,200.6L635.3,202.8L637.6,204.1L637.0,205.8L634.8,208.6L632.5,210.4L630.5,210.3L629.6,211.0L629.0,212.2L625.4,213.0L621.9,213.8L618.3,214.5L614.8,215.3L611.2,216.0L607.7,216.7L604.1,217.4L600.6,218.1L597.0,218.8L593.4,219.5L590.1,220.1L586.7,220.7L583.4,221.3L582.7,217.6L582.0,213.9L581.4,210.1L580.7,206.1L579.9,202.0L579.2,197.9L578.5,193.9Z"/>
<path class="g" d="M585.0,189.1L586.7,187.3L588.3,185.6L590.7,182.6L591.9,180.2L589.7,177.8L589.2,175.9L591.7,174.8L594.2,173.6L597.1,173.5L600.0,173.5L602.8,173.4L605.6,172.6L608.3,171.8L610.4,170.2L612.4,168.6L615.0,167.0L614.2,163.5L612.2,160.8L612.4,159.5L614.2,157.9L616.0,156.2L618.3,152.0L619.8,150.0L622.3,148.4L624.7,146.8L627.8,146.0L630.9,145.3L633.9,144.5L637.0,143.7L637.2,146.3L638.9,150.2L639.0,153.0L639.1,155.8L640.5,158.6L640.2,160.6L642.0,160.8L642.7,163.7L643.3,166.7L644.3,170.3L644.2,174.7L644.2,179.1L645.0,183.7L645.8,188.4L646.7,189.1L644.7,191.0L645.7,192.2L645.2,194.7L646.0,193.3L648.5,192.2L651.0,191.1L653.3,190.5L655.7,189.8L658.0,187.1L661.1,187.6L662.3,187.0L659.7,189.2L657.1,191.4L653.6,193.5L650.1,195.7L646.9,196.9L643.7,198.0L641.5,199.4L641.6,197.7L643.1,196.8L643.3,194.5L643.4,192.6L639.1,191.4L634.8,190.1L631.9,189.3L630.2,185.9L626.9,183.8L623.5,184.6L620.0,185.4L616.6,186.1L613.2,186.8L609.7,187.6L606.3,188.3L602.8,189.0L599.4,189.7L596.0,190.4L592.5,191.0L589.1,191.7L585.6,192.3L585.0,189.1Z"/>
<path class="g" d="M644.2,179.1L647.3,178.4L650.5,177.7L653.7,177.0L656.8,176.3L660.0,175.5L660.9,179.2L661.9,182.8L661.6,184.0L660.7,184.0L658.7,185.0L656.8,186.0L654.3,186.5L651.9,187.0L650.2,189.1L648.1,190.2L645.7,192.2L644.7,191.0L646.7,189.1L645.8,188.4L645.0,183.7L644.2,179.1Z"/>
<path class="g" d="M660.0,175.5L661.9,175.0L663.9,174.5L664.2,175.9L666.3,177.9L667.9,180.0L667.3,180.7L665.5,181.3L665.0,182.6L661.6,184.0L661.9,182.8L660.9,179.2L660.0,175.5Z"/>
<path class="g" d="M644.3,170.3L646.7,169.7L649.2,169.2L651.7,168.7L655.3,167.9L658.9,167.1L662.5,166.2L663.3,164.9L665.3,163.2L666.3,163.1L669.0,165.1L667.7,167.4L666.3,169.7L670.8,173.5L672.8,175.2L674.9,174.6L676.9,174.0L674.6,171.0L677.8,173.5L678.2,175.1L675.9,176.5L673.5,177.9L672.0,178.7L670.9,176.4L669.4,178.2L667.9,180.0L666.3,177.9L664.2,175.9L663.9,174.5L661.9,175.0L660.0,175.5L656.8,176.3L653.7,177.0L650.5,177.7L647.3,178.4L644.2,179.1L644.1,179.2L644.2,174.7L644.3,170.3Z"/>
<path class="g" d="M651.7,168.7L650.5,167.3L650.8,164.2L650.1,159.4L650.8,155.4L651.3,151.5L650.7,149.1L653.0,147.0L654.1,145.1L653.6,142.1L653.4,139.5L653.7,136.8L654.3,135.7L656.3,135.1L657.5,138.8L658.7,142.5L659.9,146.3L661.1,150.2L662.3,154.0L663.5,157.9L665.3,158.8L665.5,160.0L666.8,160.5L666.3,163.1L665.3,163.2L663.3,164.9L662.5,166.2L658.9,167.1L655.3,167.9L651.7,168.7Z"/>
<path class="g" d="M155.5,304.1L156.0,306.5L156.5,308.8L157.0,311.1L157.5,313.4L158.0,315.7L158.5,318.0L159.0,320.4L159.5,322.7L160.0,325.0L160.6,327.3L161.1,329.7L161.6,332.0L162.1,334.3L162.6,336.6L163.1,338.9L163.6,341.3L164.1,343.6L164.6,345.9L165.1,348.2L165.7,350.5L166.2,352.9L166.7,355.2L167.2,357.5L167.7,359.8L168.8,359.8L170.0,359.8L171.2,359.8L172.3,359.7L173.5,359.7L175.1,361.2L176.7,362.6L178.4,364.1L180.0,365.5L180.7,364.2L181.4,362.8L182.1,361.5L182.8,360.5L183.6,359.5L184.4,358.6L185.5,359.8L186.7,361.0L188.3,361.9L189.9,362.8L191.5,363.7L193.2,364.6L194.7,366.1L196.2,367.6L197.8,369.1L199.4,370.6L201.0,372.1L202.5,372.6L204.0,373.0L205.6,373.5L207.1,373.9L208.6,374.3L209.3,376.2L209.9,378.1L210.6,380.0L209.7,380.2L208.7,380.4L207.8,380.5L205.8,378.7L203.8,376.9L202.0,375.3L200.2,373.7L198.7,372.5L197.2,371.3L195.8,370.1L194.1,368.8L192.4,367.4L191.0,366.5L189.5,365.5L188.1,364.2L186.7,362.9L185.4,361.4L185.7,363.9L185.1,364.5L184.5,365.2L184.2,366.9L183.8,368.6L182.7,368.3L181.6,368.1L180.4,367.9L179.3,367.6L177.9,366.9L176.5,366.1L175.1,365.3L173.7,364.6L172.3,363.8L171.2,363.5L170.0,363.2L168.9,362.9L167.8,362.5L166.7,362.2L165.6,362.4L164.6,362.6L163.5,362.7L162.5,362.9L161.4,363.0L160.3,363.2L159.3,363.3L158.2,363.0L157.1,362.7L156.0,362.4L155.0,362.1L153.9,361.7L152.8,360.9L151.8,360.2L150.7,359.4L149.6,358.6L148.8,359.2L147.9,359.7L147.0,360.3L146.1,360.8L146.7,362.9L147.4,365.0L146.4,365.2L145.3,365.4L144.3,365.5L143.3,365.7L142.3,366.4L141.3,367.2L140.3,367.9L139.3,368.6L138.3,369.3L137.3,370.0L136.3,370.7L136.2,368.3L136.6,366.5L137.0,364.6L137.4,362.8L138.3,361.6L139.2,360.5L140.0,359.4L140.9,358.3L140.0,358.9L139.0,359.6L138.1,360.3L137.1,361.0L136.2,361.6L135.4,363.1L134.5,364.5L133.7,366.0L132.8,366.9L131.9,367.9L131.1,368.8L130.2,369.7L129.6,371.3L129.0,372.8L129.9,372.9L130.8,373.0L131.8,373.0L130.8,374.6L129.8,376.1L128.7,377.7L127.7,378.6L126.6,379.6L125.5,380.6L124.4,381.5L123.3,382.5L122.0,383.6L120.7,384.7L119.4,385.7L118.1,386.8L116.8,387.9L115.5,388.9L114.2,389.6L112.9,390.4L111.6,391.1L110.3,391.8L109.0,392.5L107.7,393.2L106.3,393.6L104.9,393.9L103.5,394.3L102.0,394.6L100.6,394.9L99.5,395.2L98.4,395.5L97.3,395.7L96.1,396.2L94.8,396.6L93.5,397.0L92.2,397.4L92.0,395.9L93.5,395.4L94.9,395.0L96.3,394.5L97.6,394.0L99.0,393.5L100.5,392.9L102.0,392.2L103.4,391.5L104.8,390.8L106.3,390.1L107.1,389.8L108.0,389.6L109.3,388.6L110.6,387.6L111.9,386.6L113.1,385.6L114.4,384.6L115.6,383.3L116.9,381.9L118.1,380.5L118.9,378.3L119.6,376.1L120.3,373.9L119.1,373.7L118.0,373.5L116.8,373.3L115.6,373.1L114.9,374.3L114.3,375.5L113.2,374.7L112.2,373.8L111.1,373.0L110.1,372.1L109.0,372.3L107.8,372.6L106.7,372.7L105.5,372.9L104.4,373.1L105.0,371.5L105.7,369.9L105.6,367.7L105.5,365.6L104.5,365.7L103.5,365.8L102.5,365.9L101.3,365.3L100.2,364.7L99.1,364.2L98.1,363.0L97.2,361.8L96.3,360.7L97.0,359.2L97.6,357.8L96.9,356.4L96.1,355.1L95.4,353.7L96.5,351.8L97.5,350.0L98.6,348.1L99.5,346.8L100.4,345.6L101.3,345.7L102.2,345.8L103.1,346.0L104.0,346.1L104.9,346.2L105.9,345.4L106.9,344.6L107.9,343.8L109.0,343.1L110.2,342.4L111.3,341.7L111.4,339.5L111.4,337.4L110.9,337.6L110.3,337.9L109.4,338.0L108.4,338.0L107.4,338.0L106.4,338.1L105.5,337.9L104.6,337.7L103.6,337.5L102.7,337.2L101.8,337.0L100.8,336.8L99.9,336.5L99.1,336.2L98.3,335.9L97.5,335.5L96.8,334.2L96.2,332.8L95.6,331.4L95.0,330.1L94.4,328.7L95.4,328.2L96.4,327.8L97.3,327.3L98.3,326.8L99.2,326.3L100.2,325.8L101.1,325.6L102.0,325.3L103.0,325.1L103.9,324.9L104.8,324.7L105.7,324.5L106.5,325.2L107.3,325.9L108.2,326.6L109.0,327.3L109.8,328.0L110.6,327.7L111.4,327.4L112.1,327.0L111.5,326.4L110.8,325.7L110.2,325.0L109.5,324.0L108.7,323.0L108.1,322.5L107.5,321.9L106.8,321.4L106.2,320.8L105.6,319.5L105.0,318.2L104.5,316.9L103.7,316.1L102.9,315.3L102.1,314.5L101.4,313.6L100.6,312.8L101.6,311.4L102.5,309.9L103.4,309.5L104.3,309.1L105.2,308.7L106.1,308.3L107.0,307.9L107.8,307.5L108.7,307.0L109.6,306.1L110.5,305.1L111.4,304.1L112.3,303.2L113.2,302.7L114.0,302.3L114.9,301.8L115.7,301.3L116.6,300.8L117.4,300.4L118.2,300.0L119.0,299.5L119.8,299.1L120.5,298.6L121.3,298.2L122.1,297.7L122.9,297.2L123.6,296.8L124.4,297.4L125.1,297.9L125.9,298.5L126.7,299.1L127.5,299.7L128.2,299.7L128.9,299.8L129.6,299.8L130.3,299.8L131.0,299.8L131.7,299.8L132.4,299.9L133.2,300.2L134.0,300.6L134.9,301.0L135.7,301.4L136.5,301.7L137.3,301.9L138.1,302.1L138.8,302.2L139.6,302.4L140.3,302.4L141.1,302.5L141.8,302.5L142.5,302.6L143.3,302.6L144.0,302.6L144.7,302.7L145.5,302.7L146.2,302.6L146.9,302.6L147.7,302.6L148.4,302.5L149.1,302.5L149.9,302.5L150.6,302.7L151.4,303.0L152.2,303.2L153.0,303.5L153.8,303.7L154.6,303.9L155.5,304.1ZM186.0,370.8L187.0,370.2L188.0,369.5L189.0,370.8L190.0,372.1L191.1,374.3L192.1,376.5L191.3,376.1L190.4,375.6L189.3,374.4L188.1,373.2L187.1,372.0L186.0,370.8ZM190.1,367.6L191.0,368.1L191.8,368.5L192.4,369.9L193.0,371.3L192.1,370.9L191.3,370.5L190.7,369.1L190.1,367.6ZM194.2,374.3L195.1,373.8L195.9,373.4L196.8,372.9L197.7,374.9L196.8,376.2L195.8,377.4L195.0,375.8L194.2,374.3ZM197.7,377.8L198.8,378.1L199.9,378.3L201.0,378.5L202.4,380.5L203.8,382.6L202.8,383.2L201.8,383.8L200.6,382.6L199.4,381.4L198.6,379.6L197.7,377.8ZM203.6,377.5L204.8,377.8L205.9,378.1L206.0,380.4L204.6,380.0L204.1,378.8L203.6,377.5ZM135.1,378.4L135.5,379.8L135.9,381.1L134.7,382.2L133.6,383.2L132.4,384.3L131.2,384.6L130.0,384.9L128.8,385.2L128.3,383.6L127.8,381.9L129.1,380.5L130.3,379.2L131.2,378.8L132.0,378.5L132.9,378.2L134.0,378.3L135.1,378.4ZM94.1,361.2L94.5,362.5L94.9,363.8L93.8,363.9L92.8,363.9L91.8,363.9L90.9,362.8L90.1,361.7L91.1,361.6L92.1,361.5L93.1,361.4L94.1,361.2ZM82.5,339.1L83.5,339.0L84.5,339.0L85.4,338.9L86.4,338.8L87.2,339.6L88.1,340.4L88.9,341.3L89.8,342.1L88.8,342.4L87.8,342.7L86.8,343.0L85.9,342.1L85.0,341.3L84.1,340.4L83.3,339.8L82.5,339.1ZM87.6,399.1L86.3,400.3L85.0,401.4L83.8,401.7L82.7,402.0L81.5,402.3L80.8,400.6L82.0,400.1L83.2,399.5L84.4,398.9L85.4,399.0L86.5,399.1L87.6,399.1ZM79.9,401.1L78.8,401.9L77.6,402.7L76.5,403.4L75.5,403.5L74.6,403.6L75.6,402.3L76.6,401.0L77.7,401.0L78.8,401.1L79.9,401.1ZM72.1,403.0L71.0,403.4L69.9,403.8L68.8,404.1L68.3,403.0L69.4,402.8L70.4,402.5L71.5,402.3L72.1,403.0ZM62.4,403.7L61.1,403.7L59.8,403.7L58.5,403.7L57.1,403.6L55.8,403.6L54.8,403.4L53.9,403.2L52.9,403.0L54.0,402.6L55.2,402.3L56.3,401.9L57.5,402.3L58.8,402.6L60.0,403.0L61.2,403.3L62.4,403.7Z"/>
<clipPath id="mtclip"><path d="M251.7,115.5L255.2,116.0L258.7,116.5L262.2,117.0L265.7,117.4L269.2,117.9L272.7,118.3L276.2,118.7L279.7,119.2L283.2,119.6L286.7,119.9L290.2,120.3L293.7,120.7L297.2,121.0L300.7,121.4L304.2,121.7L307.7,122.0L311.3,122.3L314.8,122.6L318.3,122.9L321.8,123.1L325.3,123.4L328.8,123.6L332.4,123.8L335.9,124.0L339.4,124.2L342.9,124.4L346.5,124.6L350.0,124.8L353.5,124.9L357.0,125.0L356.9,129.5L356.7,134.1L356.5,138.6L356.4,143.2L356.2,147.7L356.0,152.3L355.9,156.9L355.7,161.5L355.6,165.2L355.4,169.0L355.3,172.8L351.7,172.7L348.1,172.5L344.5,172.4L340.9,172.2L337.3,172.0L333.7,171.8L330.2,171.6L326.6,171.4L323.0,171.1L319.4,170.9L315.8,170.6L312.2,170.4L308.6,170.1L305.0,169.8L301.5,169.5L297.9,169.1L294.3,168.8L290.7,168.4L290.3,172.3L288.7,171.4L287.4,169.9L285.1,171.3L283.2,171.4L282.8,171.0L280.7,171.0L279.4,170.5L277.2,170.9L274.4,170.5L273.3,171.2L272.3,170.6L271.4,168.1L269.5,167.8L268.4,167.0L268.7,165.3L267.7,164.3L266.5,161.7L265.9,159.3L266.2,158.4L264.8,157.0L263.7,158.2L261.3,159.5L259.4,158.0L260.1,156.8L259.6,155.5L261.4,154.4L260.7,152.4L261.4,149.6L263.2,145.3L260.6,145.1L260.6,144.2L258.3,142.7L258.2,141.4L255.3,137.7L255.2,136.9L253.4,136.1L251.9,134.5L252.4,131.2L250.0,127.4L250.5,123.5L251.1,119.5L251.7,115.5Z"/></clipPath><g clip-path="url(#mtclip)"><rect x="230" y="100" width="140" height="90" fill="#84c1f1"/><path d="M230,100.00L370,-40.00M230,103.93L370,-36.07M230,107.86L370,-32.14M230,111.79L370,-28.21M230,115.72L370,-24.28M230,119.65L370,-20.35M230,123.58L370,-16.42M230,127.51L370,-12.49M230,131.44L370,-8.56M230,135.37L370,-4.63M230,139.30L370,-0.70M230,143.23L370,3.23M230,147.16L370,7.16M230,151.09L370,11.09M230,155.02L370,15.02M230,158.95L370,18.95M230,162.88L370,22.88M230,166.81L370,26.81M230,170.74L370,30.74M230,174.67L370,34.67M230,178.60L370,38.60M230,182.53L370,42.53M230,186.46L370,46.46M230,190.39L370,50.39M230,194.32L370,54.32M230,198.25L370,58.25M230,202.18L370,62.18M230,206.11L370,66.11M230,210.04L370,70.04M230,213.97L370,73.97M230,217.90L370,77.90M230,221.83L370,81.83M230,225.76L370,85.76M230,229.69L370,89.69M230,233.62L370,93.62M230,237.55L370,97.55M230,241.48L370,101.48M230,245.41L370,105.41M230,249.34L370,109.34M230,253.27L370,113.27M230,257.20L370,117.20M230,261.13L370,121.13M230,265.06L370,125.06M230,268.99L370,128.99M230,272.92L370,132.92M230,276.85L370,136.85M230,280.78L370,140.78M230,284.71L370,144.71M230,288.64L370,148.64M230,292.57L370,152.57M230,296.50L370,156.50M230,300.43L370,160.43M230,304.36L370,164.36M230,308.29L370,168.29M230,312.22L370,172.22M230,316.15L370,176.15M230,320.08L370,180.08M230,324.01L370,184.01M230,327.94L370,187.94" stroke="#3e78ad" stroke-width="1.35" fill="none"/></g><path d="M251.7,115.5L255.2,116.0L258.7,116.5L262.2,117.0L265.7,117.4L269.2,117.9L272.7,118.3L276.2,118.7L279.7,119.2L283.2,119.6L286.7,119.9L290.2,120.3L293.7,120.7L297.2,121.0L300.7,121.4L304.2,121.7L307.7,122.0L311.3,122.3L314.8,122.6L318.3,122.9L321.8,123.1L325.3,123.4L328.8,123.6L332.4,123.8L335.9,124.0L339.4,124.2L342.9,124.4L346.5,124.6L350.0,124.8L353.5,124.9L357.0,125.0L356.9,129.5L356.7,134.1L356.5,138.6L356.4,143.2L356.2,147.7L356.0,152.3L355.9,156.9L355.7,161.5L355.6,165.2L355.4,169.0L355.3,172.8L351.7,172.7L348.1,172.5L344.5,172.4L340.9,172.2L337.3,172.0L333.7,171.8L330.2,171.6L326.6,171.4L323.0,171.1L319.4,170.9L315.8,170.6L312.2,170.4L308.6,170.1L305.0,169.8L301.5,169.5L297.9,169.1L294.3,168.8L290.7,168.4L290.3,172.3L288.7,171.4L287.4,169.9L285.1,171.3L283.2,171.4L282.8,171.0L280.7,171.0L279.4,170.5L277.2,170.9L274.4,170.5L273.3,171.2L272.3,170.6L271.4,168.1L269.5,167.8L268.4,167.0L268.7,165.3L267.7,164.3L266.5,161.7L265.9,159.3L266.2,158.4L264.8,157.0L263.7,158.2L261.3,159.5L259.4,158.0L260.1,156.8L259.6,155.5L261.4,154.4L260.7,152.4L261.4,149.6L263.2,145.3L260.6,145.1L260.6,144.2L258.3,142.7L258.2,141.4L255.3,137.7L255.2,136.9L253.4,136.1L251.9,134.5L252.4,131.2L250.0,127.4L250.5,123.5L251.1,119.5L251.7,115.5Z" fill="none" stroke="#fff" stroke-width=".9" stroke-linejoin="round"/>
<path class="b" d="M193.4,105.2L196.7,105.9L200.0,106.6L203.3,107.2L206.6,107.9L209.9,108.5L213.3,109.1L216.6,109.7L219.9,110.3L223.2,110.9L226.5,111.5L229.8,112.1L233.2,112.6L236.5,113.2L239.8,113.7L243.1,114.2L242.6,117.8L242.0,121.5L241.4,125.1L240.8,128.7L240.2,132.6L239.6,136.6L239.0,140.5L238.4,144.4L238.0,145.5L239.0,147.7L238.7,149.7L235.6,149.2L232.4,148.7L229.3,148.2L226.2,147.7L223.1,147.2L220.0,146.7L218.6,147.3L216.8,147.1L215.0,146.9L212.9,147.1L210.9,147.2L208.4,147.9L205.7,147.8L204.6,146.9L202.0,147.4L199.4,147.8L199.2,146.9L196.5,145.6L194.0,145.4L191.8,145.9L189.6,146.5L187.5,145.4L185.3,144.2L185.6,140.6L185.1,139.0L183.4,137.3L181.1,137.3L179.7,135.7L177.9,135.5L176.1,135.3L175.5,134.7L176.2,130.1L177.4,129.5L176.5,127.1L176.2,122.2L175.9,119.3L175.6,116.5L174.7,111.4L174.8,108.7L176.8,109.8L178.7,111.0L180.9,112.1L183.2,113.2L185.6,113.8L188.0,114.4L189.6,115.3L190.3,118.5L191.0,121.7L190.7,124.6L188.1,126.9L189.4,127.2L192.0,125.5L193.2,122.4L194.6,118.1L194.9,114.6L194.7,111.5L195.2,108.0L193.4,105.2ZM191.8,112.1L193.3,113.7L193.7,117.4L192.4,116.5L191.8,112.1ZM188.8,109.1L191.7,108.5L191.9,110.9L189.6,111.1L188.8,109.1Z"/>
<path class="b" d="M175.5,134.7L176.1,135.3L177.9,135.5L179.7,135.7L181.1,137.3L183.4,137.3L185.1,139.0L185.6,140.6L185.3,144.2L187.5,145.4L189.6,146.5L191.8,145.9L194.0,145.4L196.5,145.6L199.2,146.9L199.4,147.8L202.0,147.4L204.6,146.9L205.7,147.8L208.4,147.9L210.9,147.2L212.9,147.1L215.0,146.9L216.8,147.1L218.6,147.3L220.0,146.7L223.1,147.2L226.2,147.7L229.3,148.2L232.4,148.7L235.6,149.2L238.7,149.7L239.6,152.0L241.6,153.2L242.2,154.9L239.7,158.2L238.8,160.2L237.5,161.5L237.5,162.6L236.4,164.3L235.3,164.5L232.8,168.5L233.2,170.2L234.9,170.7L235.5,171.7L233.7,175.5L233.0,179.9L232.3,184.4L231.6,188.8L230.9,193.2L230.3,197.7L226.5,197.1L222.7,196.5L218.9,195.8L215.2,195.2L211.4,194.6L207.6,193.9L203.9,193.2L200.1,192.6L196.4,191.9L192.6,191.1L188.9,190.4L185.1,189.7L181.4,188.9L177.6,188.2L173.9,187.4L170.1,186.6L166.4,185.8L162.7,185.0L161.6,183.2L161.8,179.2L162.5,176.6L161.7,174.2L163.1,172.5L164.5,169.4L166.5,166.3L167.8,163.4L168.9,160.1L170.0,156.8L171.0,153.6L171.2,152.2L173.0,148.0L173.9,145.0L174.7,142.0L175.0,138.6L175.8,136.7L175.5,134.7Z"/>
<path class="b" d="M162.7,185.0L166.2,185.8L169.8,186.5L173.4,187.3L177.0,188.0L180.6,188.8L184.2,189.5L187.8,190.2L191.4,190.9L195.0,191.6L198.6,192.3L202.2,192.9L201.4,197.5L200.5,202.0L199.7,206.6L198.9,211.1L198.1,215.7L197.2,220.3L196.4,224.8L195.6,229.4L198.7,233.6L201.8,237.7L205.0,241.9L208.2,246.0L211.4,250.2L214.7,254.3L217.9,258.4L221.3,262.6L224.6,266.7L227.9,270.8L231.3,274.9L234.7,279.0L238.2,283.0L241.6,287.1L241.4,288.6L242.8,290.9L243.8,294.4L245.6,296.3L244.1,297.9L242.3,298.5L240.8,300.5L240.8,303.4L240.4,305.3L238.0,306.7L238.1,311.5L239.5,311.7L239.7,314.2L239.1,315.1L236.9,315.3L233.4,315.2L229.8,315.0L226.3,314.8L222.7,314.6L218.9,314.4L215.1,314.1L211.2,313.9L210.2,312.1L210.6,309.5L210.3,306.4L209.2,303.9L206.4,300.4L204.5,298.7L202.7,297.0L200.3,296.9L200.7,295.7L199.2,292.9L196.8,293.0L194.8,291.7L192.8,290.4L192.4,288.8L189.8,286.4L186.5,286.0L184.0,284.6L180.6,284.4L179.0,282.4L180.1,279.1L179.6,278.4L180.4,276.1L178.1,273.7L178.4,271.2L176.2,268.4L174.9,266.4L173.5,263.4L172.0,260.4L170.5,258.6L170.9,254.6L172.8,252.9L171.8,250.5L170.0,250.4L168.1,247.9L167.6,246.3L168.1,244.9L167.3,242.7L168.0,239.5L169.4,239.8L171.4,243.8L172.4,244.2L171.1,240.2L170.2,238.2L170.0,235.2L169.1,235.5L168.6,237.7L166.5,237.8L164.5,235.6L164.7,232.6L163.7,230.1L162.1,228.2L161.3,226.4L159.1,222.6L159.8,221.9L159.4,217.5L160.5,215.4L160.3,211.9L158.6,207.9L156.6,205.6L156.6,203.3L158.4,200.9L160.2,198.5L161.0,196.8L160.8,195.4L162.5,192.0L162.5,188.5L161.6,187.5L162.7,185.0Z"/>
<path class="b" d="M305.2,218.9L308.9,219.2L312.6,219.4L316.3,219.7L320.0,220.0L323.8,220.2L327.5,220.4L331.2,220.7L334.9,220.9L338.6,221.1L342.4,221.2L346.1,221.4L349.8,221.6L353.5,221.7L357.4,221.8L361.3,222.0L365.2,222.1L369.0,222.1L372.9,222.2L372.8,226.3L372.8,230.5L372.7,234.6L372.6,239.2L372.6,243.9L372.5,248.5L372.4,253.2L372.3,257.8L372.3,262.5L372.2,267.2L372.1,271.9L368.9,271.8L365.6,271.7L362.4,271.6L358.6,271.5L354.7,271.4L350.9,271.3L347.1,271.1L343.2,271.0L339.4,270.8L335.6,270.6L331.7,270.4L327.9,270.2L324.1,270.0L320.3,269.7L316.4,269.5L312.6,269.2L308.8,268.9L305.0,268.6L301.1,268.3L301.6,263.4L302.0,258.4L302.4,253.4L302.8,248.5L303.2,243.5L303.6,238.6L304.0,233.6L304.4,228.7L304.8,223.8L305.2,218.9Z"/>
<path class="b" d="M637.0,143.7L640.3,142.9L643.6,142.1L646.9,141.2L650.2,140.4L653.4,139.5L653.6,142.1L654.1,145.1L653.0,147.0L650.7,149.1L651.3,151.5L650.8,155.4L650.1,159.4L650.8,164.2L650.5,167.3L651.7,168.7L649.2,169.2L646.7,169.7L644.3,170.3L643.3,166.7L642.7,163.7L642.0,160.8L640.2,160.6L640.5,158.6L639.1,155.8L639.0,153.0L638.9,150.2L637.2,146.3L637.0,143.7Z"/>
<path class="b" d="M666.8,160.5L665.5,160.0L665.3,158.8L663.5,157.9L662.3,154.0L661.1,150.2L659.9,146.3L658.7,142.5L657.5,138.8L656.3,135.1L658.0,133.8L659.7,132.5L658.8,131.8L659.8,129.7L661.0,128.4L660.6,127.7L661.7,126.3L660.7,124.4L660.7,121.1L661.8,119.7L661.4,116.4L663.5,111.0L665.6,105.7L667.3,105.5L668.1,107.7L669.4,108.0L671.8,106.0L673.5,105.5L674.6,104.3L677.5,105.4L679.4,106.5L680.7,110.8L682.0,115.1L683.3,119.4L684.1,122.5L687.3,122.5L687.3,123.9L688.5,125.0L688.2,126.3L689.9,127.7L691.5,126.8L694.4,130.5L693.1,132.8L690.0,134.1L688.5,135.6L686.5,138.8L685.4,137.3L684.4,137.4L685.4,139.1L683.7,140.7L681.9,140.4L679.6,141.1L679.1,139.3L677.9,140.1L678.4,141.3L677.9,144.3L677.1,146.8L674.7,148.4L672.6,150.6L670.3,149.5L668.9,152.1L669.8,153.2L668.6,155.2L667.2,157.1L666.8,160.5Z"/>
<path class="b" d="M634.8,190.1L639.1,191.4L643.4,192.6L643.3,194.5L643.1,196.8L641.6,197.7L641.5,199.4L644.0,199.2L644.6,203.8L645.1,208.1L643.3,213.5L641.5,216.6L639.7,219.8L638.5,216.9L634.8,216.2L631.9,214.3L631.5,212.8L632.5,210.4L634.8,208.6L637.0,205.8L637.6,204.1L635.3,202.8L633.6,200.6L631.9,199.1L632.8,197.0L631.8,195.6L633.5,192.8L634.8,190.1Z"/>
<path class="b" d="M257.5,372.4L262.6,374.4L267.6,376.4L269.3,379.8L273.4,382.8L268.3,385.8L263.3,388.8L260.7,391.6L257.5,388.8L256.5,384.6L255.4,380.3L258.5,375.6L257.5,372.4ZM246.0,363.1L247.5,361.3L252.5,362.7L256.1,365.3L253.9,367.0L249.9,367.7L248.9,364.5L246.0,363.1ZM237.4,360.2L242.4,358.8L246.0,359.2L243.9,361.0L240.6,360.6L237.4,360.2ZM241.0,363.1L243.9,363.8L244.1,365.3L241.7,365.3L241.0,363.1ZM246.0,368.1L248.2,368.5L247.2,369.1L246.0,368.1ZM223.3,353.5L227.7,351.5L230.0,354.5L232.3,357.4L229.1,357.4L225.9,357.4L223.3,353.5ZM203.4,345.2L207.7,344.1L209.9,346.7L207.7,349.2L203.4,347.8L203.4,345.2Z"/>
</g>
<circle cx="619.6" cy="229.3" r="2.6" fill="#1e93dd" stroke="#fff" stroke-width="1"/>
<!-- labels -->
<text class="lab" x="214.5" y="132.8">WA</text>
<text class="lab" x="197.5" y="174">OR</text>
<text class="lab" x="194" y="261.5">CA</text>
<text class="lab" x="338.5" y="250.4">CO</text>
<text class="lab" x="309" y="147.5">MT</text>
<text class="dlab" x="236.7" y="386.4" font-size="11.3">HI</text>
<text class="dlab" x="618" y="127.3">VT</text>
<text class="dlab" x="693.3" y="111.3">ME</text><text class="dlab" x="712" y="109.4" font-size="7.5">*</text>
<text class="dlab" x="668" y="209.3">NJ</text><text class="dlab" x="684.2" y="204.7" font-size="7.5">*</text>
<text class="dlab" x="648.6" y="232.9">DC</text>
<g stroke="#222" stroke-width="1.3" fill="none">
<line x1="629" y1="131" x2="646" y2="148"/>
<line x1="690" y1="111" x2="674" y2="127"/>
<line x1="640.3" y1="204.9" x2="663.2" y2="204.9"/>
<line x1="620" y1="229.1" x2="644.5" y2="229.1"/>
</g>
<!-- footnotes -->
<text class="fn" x="12.6" y="423.2" textLength="319.7" lengthAdjust="spacingAndGlyphs">*NEW JERSEY'S LAW GOES INTO EFFECT ON AUG. 1, 2019, AND MAINE'S IS</text>
<text class="fn" x="12.6" y="435.8" textLength="344.4" lengthAdjust="spacingAndGlyphs">EXPECTED TO GO INTO EFFECT ON OR AROUND SEPT. 17, 2019, DEPENDING ON</text>
<text class="fn" x="12.6" y="448.7" textLength="185.9" lengthAdjust="spacingAndGlyphs">WHEN THEIR LEGISLATIVE SESSION ENDS.</text>
<text class="src" x="12.2" y="468.9" textLength="301.4" lengthAdjust="spacingAndGlyphs">SOURCE: THE DEATH WITH DIGNITY NATIONAL CENTER, AS OF JUNE 13, 2019.</text>
<!-- logo -->
<circle cx="705.1" cy="464.3" r="10" fill="#000"/>
<g fill="none" stroke="#fff" stroke-width="1.5">
<circle cx="698.9" cy="464.25" r="2.3"/><path d="M701.65,461.3V467.3" stroke-width="1.4"/>
<circle cx="705.65" cy="464.25" r="2.3"/><path d="M702.95,459.2V467.3" stroke-width="1.4"/>
<path d="M713.71,462.71A2.3,2.3 0 1 0 713.71,465.79"/>
</g>
<text x="716.4" y="468.9" font-size="14.2" fill="#111" stroke="#111" stroke-width=".3" textLength="38.6" lengthAdjust="spacingAndGlyphs" style="font-family:'Liberation Serif',serif">NEWS</text>
</svg>
</body></html>
